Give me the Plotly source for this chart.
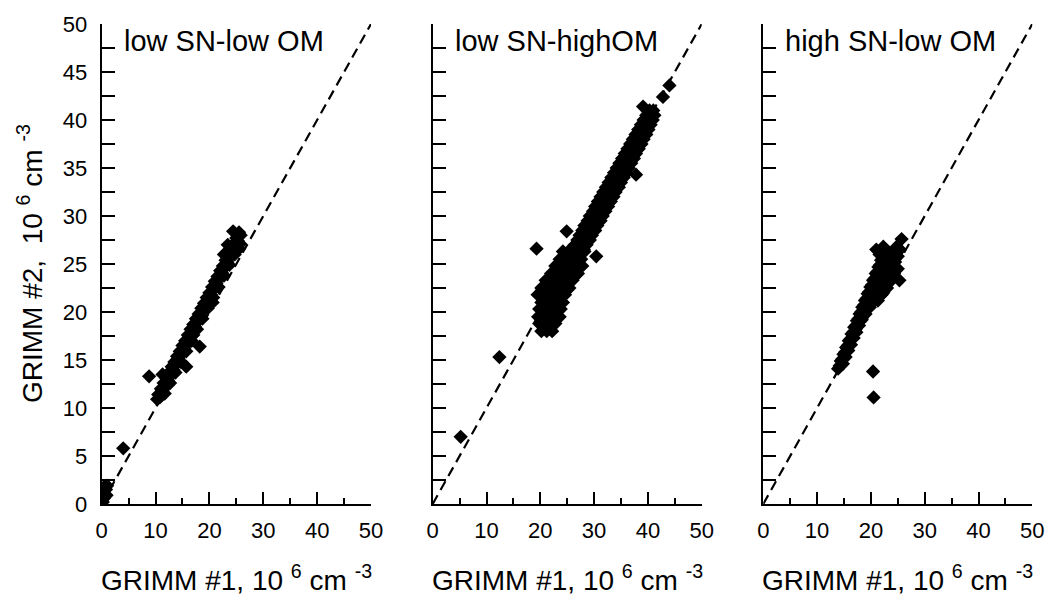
import plotly.graph_objects as go

# ---------------- data ----------------
# panel 1: low SN-low OM
p1_x = [0.2, 0.4, 0.6, 0.8, 0.5, 0.3, 0.9, 0.1, 1.0,
        4.0, 8.8, 11.3, 15.7, 18.2,
        10.3, 10.5, 10.8, 11.0, 11.3, 11.5, 11.8, 12.0, 12.3, 12.5, 12.8, 13.0, 13.3, 13.5, 13.8,
        14.0, 14.3, 14.5, 14.8, 15.0, 15.3, 15.5, 15.8, 16.0, 16.3, 16.5, 16.8, 17.0, 17.3, 17.5,
        17.8, 18.0, 18.3, 18.5, 18.8, 19.0, 19.3, 19.5, 19.8, 20.0, 20.3, 20.5, 20.8, 21.0, 21.3,
        21.5, 21.8, 22.0, 22.3, 22.5, 22.8, 23.0, 23.3, 23.5, 23.8, 24.0, 24.3, 24.5, 24.8, 25.0,
        25.3, 25.5, 25.8,
        23.4, 22.7, 24.4, 25.5, 20.6, 17.0, 14.2, 12.2,
        11.7, 12.7, 13.7, 14.7, 15.7, 16.7, 17.7, 18.7, 19.7, 20.7, 21.7, 22.7, 23.7, 24.7, 25.7]
p1_y = [0.2, 0.6, 1.0, 1.5, 1.8, 1.2, 0.9, 0.5, 1.9,
        5.8, 13.3, 13.5, 14.3, 16.4,
        10.9, 11.4, 11.1, 12.0, 11.8, 12.6, 12.3, 13.1, 12.9, 13.7, 13.4, 14.3, 14.0, 14.8, 14.6,
        15.4, 15.1, 15.9, 15.7, 16.5, 16.2, 17.0, 16.8, 17.6, 17.3, 18.2, 17.9, 18.7, 18.5, 19.3,
        19.0, 19.8, 19.6, 20.4, 20.1, 20.9, 20.7, 21.5, 21.3, 22.0, 21.8, 22.6, 22.4, 23.2, 23.0,
        23.7, 23.5, 24.3, 24.1, 24.8, 24.6, 25.4, 25.2, 26.0, 25.7, 26.5, 26.3, 27.1, 26.9, 27.7,
        27.4, 28.3, 28.0,
        27.0, 26.0, 28.4, 26.6, 21.0, 17.6, 14.8, 12.4,
        11.5, 12.6, 13.7, 14.8, 15.9, 17.0, 18.2, 19.3, 20.4, 21.5, 22.6, 23.8, 24.9, 26.0, 27.1]

# panel 2: low SN-highOM
p2_x = [5.2, 12.4, 19.3, 37.8, 44.0, 42.8, 39.1, 30.4, 24.9,
        # lower blob
        20.2, 21.2, 22.2,
        19.8, 20.8, 21.8, 22.8,
        19.6, 20.6, 21.6, 22.6, 23.6,
        19.8, 20.8, 21.8, 22.8, 23.8,
        20.2, 21.2, 22.2, 23.2, 24.2,
        19.5, 20.6, 21.6, 22.6, 23.6, 24.6,
        20.2, 21.2, 22.4, 23.4, 24.4, 25.4,
        21.0, 22.0, 23.0, 24.0, 25.0, 26.0,
        22.0, 23.0, 24.0, 25.0, 26.0, 27.0,
        22.8, 23.8, 24.8, 25.8, 26.8, 27.8,
        23.6, 24.6, 25.6, 26.6, 27.6,
        24.2, 25.2, 26.2, 27.2, 28.2,
        # upper band (three rows)
        25.9, 27.0, 28.1, 26.4, 27.6, 28.6, 26.9, 28.0, 29.2, 27.3, 28.6, 29.6,
        27.8, 29.0, 30.2, 28.2, 29.6, 30.6, 28.8, 30.0, 31.2, 29.2, 30.6, 31.6,
        29.8, 31.0, 32.1, 30.2, 31.5, 32.6, 30.7, 32.0, 33.1, 31.2, 32.4, 33.6,
        31.7, 33.0, 34.0, 32.2, 33.4, 34.6, 32.7, 34.0, 35.0, 33.2, 34.4, 35.5,
        33.7, 34.9, 36.0, 34.2, 35.4, 36.4, 34.7, 35.9, 36.9, 35.2, 36.4, 37.4,
        35.7, 36.8, 37.8, 36.2, 37.3, 38.3, 36.7, 37.8, 38.8, 37.2, 38.2, 39.2,
        37.7, 38.7, 39.7, 38.2, 39.2, 40.1, 38.7, 39.6, 40.5, 39.2, 40.0, 40.9,
        39.7, 40.5, 41.2, 40.3, 41.0]
p2_y = [7.0, 15.3, 26.6, 34.3, 43.6, 42.4, 41.4, 25.8, 28.4,
        18.0, 18.0, 18.0,
        18.8, 18.8, 18.8, 18.8,
        19.5, 19.5, 19.5, 19.5, 19.5,
        20.3, 20.3, 20.3, 20.3, 20.3,
        21.0, 21.0, 21.0, 21.0, 21.0,
        21.8, 21.8, 21.8, 21.8, 21.8, 21.8,
        22.5, 22.5, 22.5, 22.5, 22.5, 22.5,
        23.3, 23.3, 23.3, 23.3, 23.3, 23.3,
        24.0, 24.0, 24.0, 24.0, 24.0, 24.0,
        24.8, 24.8, 24.8, 24.8, 24.8, 24.8,
        25.5, 25.5, 25.5, 25.5, 25.5,
        26.3, 26.3, 26.3, 26.3, 26.3,
        26.5, 26.5, 26.5, 27.0, 27.0, 27.0, 27.5, 27.5, 27.5, 28.0, 28.0, 28.0,
        28.5, 28.5, 28.5, 29.0, 29.0, 29.0, 29.5, 29.5, 29.5, 30.0, 30.0, 30.0,
        30.5, 30.5, 30.5, 31.0, 31.0, 31.0, 31.5, 31.5, 31.5, 32.0, 32.0, 32.0,
        32.5, 32.5, 32.5, 33.0, 33.0, 33.0, 33.5, 33.5, 33.5, 34.0, 34.0, 34.0,
        34.5, 34.5, 34.5, 35.0, 35.0, 35.0, 35.5, 35.5, 35.5, 36.0, 36.0, 36.0,
        36.5, 36.5, 36.5, 37.0, 37.0, 37.0, 37.5, 37.5, 37.5, 38.0, 38.0, 38.0,
        38.5, 38.5, 38.5, 39.0, 39.0, 39.0, 39.5, 39.5, 39.5, 40.0, 40.0, 40.0,
        40.5, 40.5, 40.5, 41.0, 41.0]

# panel 3: high SN-low OM
p3_x = [20.4, 20.5,
        13.9, 14.2, 14.4, 14.7, 14.9, 15.2, 15.4, 15.7, 15.9, 16.2, 16.4, 16.7, 16.9, 17.2, 17.4,
        17.7, 17.9, 18.2, 18.4, 18.7, 18.9, 19.2, 19.4, 19.7, 19.9, 20.2, 20.4, 20.7, 20.9, 21.2,
        21.4, 21.7, 21.9, 22.2, 22.0, 22.3, 21.6,
        20.5, 21.2, 21.8, 22.5, 23.0, 23.5, 24.0, 24.5, 25.0, 25.4, 25.7, 24.2, 23.2, 22.8, 24.0,
        23.0, 22.0, 19.8, 19.0, 25.3,
        14.8, 15.3, 15.8, 16.3, 16.8, 17.3, 17.8, 18.3, 18.8, 19.3, 19.8,
        20.5, 21.0, 21.5, 22.0, 22.5, 23.0, 23.5, 21.3, 22.3, 23.3, 24.3, 25.0, 24.8, 23.8,
        22.8, 21.8, 20.8, 24.5, 21.0, 22.8]
p3_y = [13.8, 11.1,
        14.1, 14.4, 14.9, 15.1, 15.6, 15.8, 16.3, 16.5, 17.0, 17.2, 17.7, 17.9, 18.4, 18.6, 19.1,
        19.3, 19.8, 20.0, 20.5, 20.7, 21.2, 21.4, 21.9, 22.1, 22.6, 22.8, 23.3, 23.5, 24.0, 24.2,
        24.7, 24.9, 25.4, 25.6, 26.2, 26.8, 26.0,
        21.5, 22.0, 22.6, 23.2, 23.8, 24.3, 24.8, 25.2, 25.8, 26.5, 27.6, 23.6, 24.8, 25.8, 26.2,
        22.5, 21.8, 20.5, 19.8, 23.3,
        14.6, 15.3, 16.0, 16.6, 17.3, 17.9, 18.6, 19.2, 19.9, 20.5, 21.1,
        22.5, 23.2, 23.8, 24.4, 25.0, 25.5, 26.0, 21.2, 22.0, 23.0, 24.0, 24.5, 26.8, 25.3,
        24.2, 23.4, 22.0, 25.8, 26.5, 26.5]

panel_titles = ["low SN-low OM", "low SN-highOM", "high SN-low OM"]
one_to_one = [0, 50]
x_ticks = [0, 10, 20, 30, 40, 50]
y_ticks = [0, 5, 10, 15, 20, 25, 30, 35, 40, 45, 50]

xs = [p1_x, p2_x, p3_x]
ys = [p1_y, p2_y, p3_y]

# ---------------- figure ----------------
W, H = 1047, 597
def px(v):
    return v / W
def py(v):
    return (H - v) / H

x_dom = [[px(101.7), px(371.0)], [px(432.7), px(701.7)], [px(763.3), px(1032.3)]]
y_dom = [py(504), py(24)]

FONT = "Liberation Sans, Arial, sans-serif"
fig = go.Figure()

for i in range(3):
    xa = "x" if i == 0 else f"x{i+1}"
    ya = "y" if i == 0 else f"y{i+1}"
    fig.add_trace(go.Scatter(x=one_to_one, y=one_to_one, mode="lines",
                             line=dict(color="black", width=2.2, dash="10px,6px"),
                             xaxis=xa, yaxis=ya, showlegend=False, hoverinfo="skip"))
    fig.add_trace(go.Scatter(x=xs[i], y=ys[i], mode="markers",
                             marker=dict(symbol="diamond", size=11, color="black",
                                         line=dict(width=0)),
                             xaxis=xa, yaxis=ya, showlegend=False))

    axkey = "xaxis" if i == 0 else f"xaxis{i+1}"
    aykey = "yaxis" if i == 0 else f"yaxis{i+1}"
    fig.layout[axkey] = dict(
        domain=x_dom[i], range=[0, 50], anchor=ya, automargin=False,
        tickvals=x_ticks, ticks="inside", ticklen=12, tickwidth=2, tickcolor="black",
        minor=dict(dtick=5, tick0=0, ticks="inside", ticklen=6, tickwidth=2, tickcolor="black"),
        showline=True, linecolor="black", linewidth=2, mirror=False,
        showgrid=False, zeroline=False,
        tickfont=dict(family=FONT, size=22, color="black"),
        ticklabelstandoff=6,
    )
    fig.layout[aykey] = dict(
        domain=y_dom, range=[0, 50], anchor=xa, automargin=False,
        tickvals=y_ticks, ticks="inside", ticklen=13, tickwidth=2, tickcolor="black",
        minor=dict(dtick=2.5, tick0=0, ticks="inside", ticklen=13, tickwidth=2, tickcolor="black"),
        showline=True, linecolor="black", linewidth=2, mirror=False,
        showgrid=False, zeroline=False, showticklabels=(i == 0),
        tickfont=dict(family=FONT, size=22, color="black"),
        ticklabelstandoff=8,
    )
    # panel label
    fig.add_annotation(text=panel_titles[i], xref="paper", yref="paper",
                       x=x_dom[i][0] + 20 / W, y=py(41),
                       xanchor="left", yanchor="middle", showarrow=False,
                       font=dict(family=FONT, size=29, color="black"))
    # x title
    fig.add_annotation(text="GRIMM #1, 10 <sup>6</sup> cm <sup>-3</sup>",
                       xref="paper", yref="paper",
                       x=(x_dom[i][0] + x_dom[i][1]) / 2, y=py(578),
                       xanchor="center", yanchor="middle", showarrow=False,
                       font=dict(family=FONT, size=28, color="black"))

fig.add_annotation(text="GRIMM #2,  10 <sup>6</sup> cm <sup>-3</sup>",
                   xref="paper", yref="paper", x=px(30), y=py(264),
                   xanchor="center", yanchor="middle", textangle=-90, showarrow=False,
                   font=dict(family=FONT, size=28, color="black"))

fig.update_layout(width=W, height=H, margin=dict(l=0, r=0, t=0, b=0),
                  paper_bgcolor="white", plot_bgcolor="white", showlegend=False)

fig.write_html("out.html")
